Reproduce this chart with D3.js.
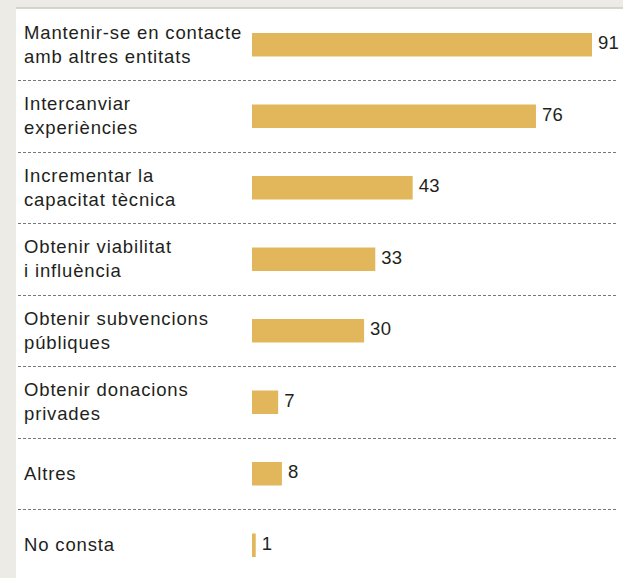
<!DOCTYPE html>
<html>
<head>
<meta charset="utf-8">
<script src="https://cdn.jsdelivr.net/npm/d3@7/dist/d3.min.js"></script>
<style>
  html, body { margin: 0; padding: 0; background: #ecebe6; }
  svg { display: block; }
  text { font-family: "Liberation Sans", Arial, Helvetica, sans-serif; fill: #231f20; }
</style>
</head>
<body>
<svg id="chart" width="623" height="578"></svg>
<script>
// Motius per treballar en xarxa
const categories = [
  ["Mantenir-se en contacte", "amb altres entitats"],
  ["Intercanviar", "experiències"],
  ["Incrementar la", "capacitat tècnica"],
  ["Obtenir viabilitat", "i influència"],
  ["Obtenir subvencions", "públiques"],
  ["Obtenir donacions", "privades"],
  ["Altres"],
  ["No consta"]
];
const values = [91, 76, 43, 33, 30, 7, 8, 1];

const W = 623, H = 578;
const panel = { left: 16, top: 8.5 };
const rowH = 71.5;
const barX0 = 252;
const barH = 23.5;

const svg = d3.select("#chart");

// white panel with a thin top rule
svg.append("rect")
  .attr("x", panel.left).attr("y", panel.top)
  .attr("width", W - panel.left).attr("height", H - panel.top)
  .attr("fill", "#ffffff");
svg.append("line")
  .attr("x1", panel.left).attr("x2", W)
  .attr("y1", panel.top - 0.5).attr("y2", panel.top - 0.5)
  .attr("stroke", "#cfc9bf").attr("stroke-width", 1.5);

const idx = d3.range(categories.length);
const y = d3.scaleBand()
  .domain(idx)
  .range([panel.top, panel.top + rowH * categories.length])
  .padding(0);

const x = d3.scaleLinear()
  .domain([0, 91])
  .range([barX0, 592]);

// dotted separators between rows
svg.append("g").selectAll("line")
  .data(idx.slice(1))
  .join("line")
  .attr("x1", 18).attr("x2", 617)
  .attr("y1", d => Math.round(y(d)) + 0.5)
  .attr("y2", d => Math.round(y(d)) + 0.5)
  .attr("stroke", "#777777")
  .attr("stroke-width", 1)
  .attr("stroke-dasharray", "3,2");

const rows = svg.append("g").selectAll("g")
  .data(idx)
  .join("g")
  .attr("transform", d => `translate(0,${y(d) + y.bandwidth() / 2})`);

// category labels (one or two lines)
rows.append("text")
  .attr("x", 24)
  .attr("font-size", 18.5)
  .attr("letter-spacing", "0.85px")
  .each(function(d) {
    const lines = categories[d];
    const lh = 24;
    const t = d3.select(this);
    lines.forEach((ln, i) => {
      t.append("tspan")
        .attr("x", 24)
        .attr("y", (i - (lines.length - 1) / 2) * lh)
        .attr("dy", "0.35em")
        .text(ln);
    });
  });

// bars
rows.append("rect")
  .attr("x", x(0))
  .attr("y", -barH / 2 + 0.5)
  .attr("width", d => x(values[d]) - x(0))
  .attr("height", barH)
  .attr("fill", "#e2b75b");

// value labels
rows.append("text")
  .attr("x", d => x(values[d]) + 6)
  .attr("y", -1.5)
  .attr("dy", "0.35em")
  .attr("font-size", 18.5)
  .attr("letter-spacing", "0.3px")
  .text(d => values[d]);
</script>
</body>
</html>
